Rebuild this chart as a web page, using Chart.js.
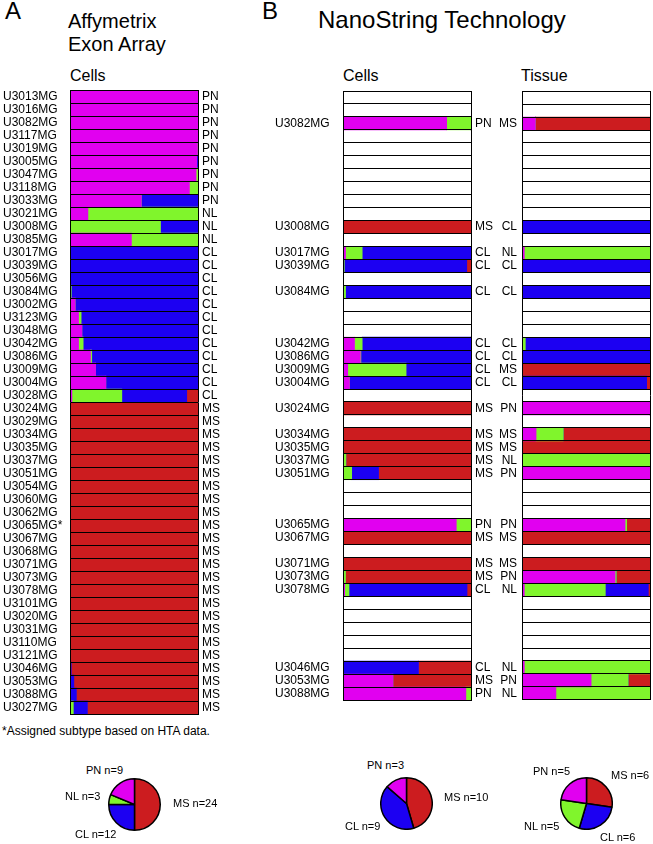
<!DOCTYPE html>
<html>
<head>
<meta charset="utf-8">
<script src="https://cdn.jsdelivr.net/npm/chart.js@4.4.0/dist/chart.umd.min.js"></script>
<style>
body { margin: 0; background: #fff; width: 653px; height: 844px; position: relative; overflow: hidden;
       font-family: 'Liberation Sans', Arial, Helvetica, sans-serif; color: #000; }
.t { position: absolute; white-space: nowrap; line-height: 1; }
canvas { position: absolute; }
</style>
</head>
<body>

<div class="t" style="left:5px;top:-1px;font-size:24px">A</div>
<div class="t" style="left:68px;top:10px;font-size:20px;line-height:23px">Affymetrix<br>Exon Array</div>
<div class="t" style="left:70px;top:68px;font-size:16px">Cells</div>
<div class="t" style="left:262px;top:-1px;font-size:24px">B</div>
<div class="t" style="left:318px;top:8px;font-size:24px">NanoString Technology</div>
<div class="t" style="left:343px;top:68px;font-size:16px">Cells</div>
<div class="t" style="left:521px;top:68px;font-size:16px">Tissue</div>
<div class="t" style="left:2px;top:725px;font-size:12px">*Assigned subtype based on HTA data.</div>

<canvas id="affy" width="230" height="648" style="left:0px;top:78px"></canvas>
<canvas id="nsCells" width="229" height="633" style="left:270px;top:79px"></canvas>
<canvas id="nsTissue" width="157" height="633" style="left:495px;top:79px"></canvas>

<canvas id="pieA" width="53" height="53" style="left:108px;top:778px"></canvas>
<canvas id="pieB" width="53" height="53" style="left:380px;top:777px"></canvas>
<canvas id="pieC" width="53" height="53" style="left:560px;top:777px"></canvas>

<div class="t" style="left:86px;top:765px;font-size:11px">PN n=9</div>
<div class="t" style="left:65px;top:791px;font-size:11px">NL n=3</div>
<div class="t" style="left:173px;top:798px;font-size:11px">MS n=24</div>
<div class="t" style="left:75px;top:829px;font-size:11px">CL n=12</div>

<div class="t" style="left:367px;top:760px;font-size:11px">PN n=3</div>
<div class="t" style="left:345px;top:821px;font-size:11px">CL n=9</div>
<div class="t" style="left:444px;top:792px;font-size:11px">MS n=10</div>

<div class="t" style="left:533px;top:766px;font-size:11px">PN n=5</div>
<div class="t" style="left:611px;top:770px;font-size:11px">MS n=6</div>
<div class="t" style="left:524px;top:821px;font-size:11px">NL n=5</div>
<div class="t" style="left:600px;top:832px;font-size:11px">CL n=6</div>

<script>
// stacked order in every bar: PN, NL, CL, MS (fraction of the row)
const colours = { PN: '#e100f0', NL: '#80f52c', CL: '#1c00f2', MS: '#cc1c1f' };

// ---- A: Affymetrix exon array, cells
const affyNames = ['U3013MG','U3016MG','U3082MG','U3117MG','U3019MG','U3005MG','U3047MG','U3118MG','U3033MG',
  'U3021MG','U3008MG','U3085MG',
  'U3017MG','U3039MG','U3056MG','U3084MG','U3002MG','U3123MG','U3048MG','U3042MG','U3086MG','U3009MG','U3004MG','U3028MG',
  'U3024MG','U3029MG','U3034MG','U3035MG','U3037MG','U3051MG','U3054MG','U3060MG','U3062MG','U3065MG*','U3067MG','U3068MG',
  'U3071MG','U3073MG','U3078MG','U3101MG','U3020MG','U3031MG','U3110MG','U3121MG','U3046MG','U3053MG','U3088MG','U3027MG'];
const affyCalls = ['PN','PN','PN','PN','PN','PN','PN','PN','PN','NL','NL','NL',
  'CL','CL','CL','CL','CL','CL','CL','CL','CL','CL','CL','CL',
  'MS','MS','MS','MS','MS','MS','MS','MS','MS','MS','MS','MS','MS','MS','MS','MS','MS','MS','MS','MS','MS','MS','MS','MS'];
const affyPN = [1,1,1,1,0.995,0.99,0.985,0.933,0.557,0.14,0,0.48,
  0,0,0,0,0.04,0.067,0.093,0.067,0.16,0.2,0.28,0.015,
  0,0,0,0,0,0,0,0,0,0,0,0,0,0,0,0,0,0,0,0,0,0,0,0];
const affyNL = [0,0,0,0,0,0,0.015,0.067,0,0.86,0.707,0.52,
  0,0,0,0.01,0,0.02,0,0.036,0.01,0,0,0.39,
  0,0,0,0,0,0,0,0,0,0,0,0,0,0,0,0,0,0,0,0,0,0,0,0.026];
const affyCL = [0,0,0,0,0,0.01,0,0,0.443,0,0.293,0,
  1,1,1,0.99,0.96,0.913,0.907,0.897,0.83,0.8,0.72,0.507,
  0,0,0,0,0,0,0,0,0,0,0,0,0,0,0,0,0,0,0,0,0.01,0.03,0.05,0.11];
const affyMS = [0,0,0,0,0.005,0,0,0,0,0,0,0,
  0,0,0,0,0,0,0,0,0,0,0,0.088,
  1,1,1,1,1,1,1,1,1,1,1,1,1,1,1,1,1,1,1,1,0.99,0.97,0.95,0.864];

// ---- B: NanoString, cells and tissue (blank rows = samples not measured)
const nsNames = ['','','U3082MG','','','','','','','','U3008MG','','U3017MG','U3039MG','','U3084MG','','','',
  'U3042MG','U3086MG','U3009MG','U3004MG','','U3024MG','','U3034MG','U3035MG','U3037MG','U3051MG','','','',
  'U3065MG','U3067MG','','U3071MG','U3073MG','U3078MG','','','','','','U3046MG','U3053MG','U3088MG'];
const cellCalls = ['','','PN','','','','','','','','MS','','CL','CL','','CL','','','',
  'CL','CL','CL','CL','','MS','','MS','MS','MS','MS','','','',
  'PN','MS','','MS','MS','CL','','','','','','CL','MS','PN'];
const tissueCalls = ['','','MS','','','','','','','','CL','','NL','CL','','CL','','','',
  'CL','CL','MS','CL','','PN','','MS','MS','NL','PN','','','',
  'PN','MS','','MS','PN','NL','','','','','','NL','PN','NL'];

const cellPN = [0,0,0.81,0,0,0,0,0,0,0,0,0,0.02,0,0,0,0,0,0,
  0.09,0.135,0.037,0.05,0,0,0,0,0,0,0,0,0,0,
  0.885,0,0,0,0,0.013,0,0,0,0,0,0,0.39,0.96];
const cellNL = [0,0,0.19,0,0,0,0,0,0,0,0,0,0.13,0.01,0,0.02,0,0,0,
  0.06,0.005,0.456,0,0,0,0,0,0,0.023,0.068,0,0,0,
  0.115,0,0,0,0.02,0.034,0,0,0,0,0,0,0,0.04];
const cellCL = [0,0,0,0,0,0,0,0,0,0,0,0,0.85,0.957,0,0.98,0,0,0,
  0.85,0.86,0.507,0.95,0,0,0,0,0,0,0.21,0,0,0,
  0,0,0,0,0,0.922,0,0,0,0,0,0.59,0,0];
const cellMS = [0,0,0,0,0,0,0,0,0,0,1,0,0,0.033,0,0,0,0,0,
  0,0,0,0,0,1,0,1,1,0.977,0.722,0,0,0,
  0,1,0,1,0.98,0.031,0,0,0,0,0,0.41,0.61,0];

const tisPN = [0,0,0.104,0,0,0,0,0,0,0,0,0,0.018,0,0,0,0,0,0,
  0,0,0,0,0,1,0,0.11,0,0,1,0,0,0,
  0.805,0,0,0,0.727,0.018,0,0,0,0,0,0.018,0.54,0.265];
const tisNL = [0,0,0,0,0,0,0,0,0,0,0,0,0.982,0,0,0,0,0,0,
  0.026,0,0,0,0,0,0,0.213,0,1,0,0,0,0,
  0.013,0,0,0,0.01,0.633,0,0,0,0,0,0.982,0.29,0.735];
const tisCL = [0,0,0,0,0,0,0,0,0,0,1,0,0,1,0,1,0,0,0,
  0.974,1,0,0.974,0,0,0,0,0,0,0,0,0,0,
  0,0,0,0,0,0.336,0,0,0,0,0,0,0,0];
const tisMS = [0,0,0.896,0,0,0,0,0,0,0,0,0,0,0,0,0,0,0,0,
  0,0,1,0.026,0,0,0,0.677,1,0,0,0,0,0,
  0.182,1,0,1,0.263,0.013,0,0,0,0,0,0,0.17,0];

// ---- pies, clockwise from 12 o'clock
const pieOrder = ['MS','CL','NL','PN'];
const affyCounts = [24, 12, 3, 9];
const cellCounts = [10, 9, 0, 3];
const tissueCounts = [6, 6, 5, 5];

Chart.defaults.font.family = "'Liberation Sans', Arial, Helvetica, sans-serif";
Chart.defaults.font.size = 12;
Chart.defaults.color = '#000';

function stackedRows(id, labels, rightLabels, pn, nl, cl, ms, o) {
  return new Chart(document.getElementById(id), {
    type: 'bar',
    data: {
      labels: labels,
      datasets: [
        { label: 'PN', data: pn, backgroundColor: colours.PN },
        { label: 'NL', data: nl, backgroundColor: colours.NL },
        { label: 'CL', data: cl, backgroundColor: colours.CL },
        { label: 'MS', data: ms, backgroundColor: colours.MS }
      ]
    },
    options: {
      indexAxis: 'y',
      responsive: false,
      animation: false,
      layout: { padding: o.pad },
      plugins: { legend: { display: false }, tooltip: { enabled: false } },
      datasets: { bar: { barPercentage: 1, categoryPercentage: 1, borderWidth: 0 } },
      scales: {
        x: { stacked: true, min: 0, max: 1, display: false },
        y: {
          stacked: true, position: 'left', offset: true,
          // row outlines go on top of the bars
          grid: { offset: true, color: '#000', lineWidth: 1, drawTicks: false, z: 1 },
          border: { display: true, color: '#000', width: 1, z: 1 },
          ticks: { autoSkip: false, padding: o.leftPad, crossAlign: o.leftAlign },
          afterFit: s => { s.width = o.leftW; }
        },
        y2: {
          type: 'category', labels: rightLabels, position: 'right', offset: true,
          grid: { drawOnChartArea: false, drawTicks: false },
          border: { display: true, color: '#000', width: 1, z: 1 },
          ticks: { autoSkip: false, padding: 4, display: o.rightW > 0 },
          afterFit: s => { s.width = o.rightW; }
        }
      }
    }
  });
}

stackedRows('affy', affyNames, affyCalls, affyPN, affyNL, affyCL, affyMS,
  { pad: { left: 3, right: 2, top: 12, bottom: 12 }, leftW: 67, rightW: 30, leftPad: 0, leftAlign: 'far' });
stackedRows('nsCells', nsNames, cellCalls, cellPN, cellNL, cellCL, cellMS,
  { pad: { left: 5, right: 0, top: 12, bottom: 12 }, leftW: 68, rightW: 28, leftPad: 0, leftAlign: 'far' });
stackedRows('nsTissue', tissueCalls, tissueCalls.map(() => ''), tisPN, tisNL, tisCL, tisMS,
  { pad: { left: 0, right: 2, top: 12, bottom: 12 }, leftW: 27, rightW: 0, leftPad: 5, leftAlign: 'near' });

function pie(id, counts) {
  return new Chart(document.getElementById(id), {
    type: 'pie',
    data: {
      labels: pieOrder,
      datasets: [{
        data: counts,
        backgroundColor: pieOrder.map(k => colours[k]),
        borderColor: '#000',
        borderWidth: 1.5
      }]
    },
    options: {
      responsive: false,
      animation: false,
      plugins: { legend: { display: false }, tooltip: { enabled: false } }
    }
  });
}
pie('pieA', affyCounts);
pie('pieB', cellCounts);
pie('pieC', tissueCounts);
</script>
</body>
</html>
